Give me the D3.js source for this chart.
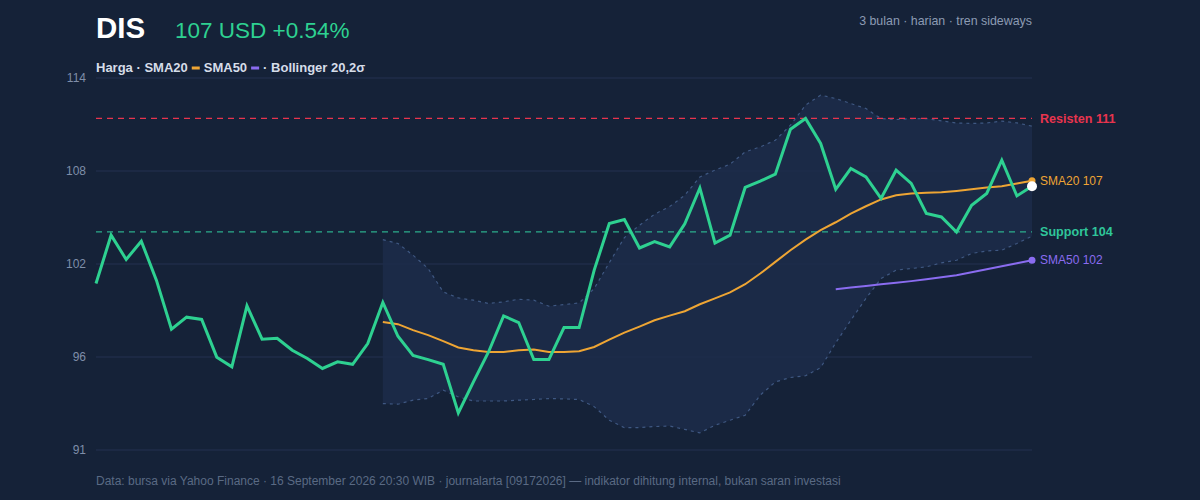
<!DOCTYPE html>
<html>
<head>
<meta charset="utf-8">
<script src="https://cdn.jsdelivr.net/npm/d3@7"></script>
<style>
  html, body { margin: 0; padding: 0; background: #152238; }
  svg { display: block; font-family: "Liberation Sans", Arial, sans-serif; }
</style>
</head>
<body>
<svg width="1200" height="500"></svg>
<script>
// closing prices, 63 trading days
const price = [
  100.86, 103.85, 102.35, 103.48, 101.07, 98.04, 98.78, 98.64, 96.31, 95.71,
  99.48, 97.42, 97.48, 96.74, 96.23, 95.61, 96.02, 95.87, 97.15, 99.69,
  97.60, 96.41, 96.16, 95.87, 92.86, 94.78, 96.63, 98.86, 98.45, 96.16,
  96.16, 98.14, 98.14, 101.69, 104.57, 104.82, 103.06, 103.45, 103.13, 104.55,
  106.77, 103.37, 103.85, 106.80, 107.19, 107.62, 110.40, 111.07, 109.52, 106.69,
  107.97, 107.45, 106.12, 107.87, 107.05, 105.19, 104.98, 104.05, 105.70, 106.43,
  108.49, 106.28, 106.88
];

// SMA20, from day 19
const sma20Start = 19;
const sma20 = [
  98.49, 98.35, 97.98, 97.67, 97.30, 96.91, 96.74, 96.63, 96.63, 96.74,
  96.78, 96.63, 96.63, 96.68, 96.94, 97.39, 97.83, 98.20, 98.59, 98.88,
  99.15, 99.58, 99.94, 100.31, 100.82, 101.48, 102.20, 102.92, 103.58, 104.16,
  104.65, 105.19, 105.64, 106.06, 106.32, 106.43, 106.47, 106.51, 106.59, 106.69,
  106.80, 106.88, 107.05, 107.21
];

// SMA50, from day 49
const sma50Start = 49;
const sma50 = [
  100.51, 100.62, 100.71, 100.82, 100.91, 101.01, 101.13, 101.25, 101.38, 101.56,
  101.75, 101.93, 102.12, 102.30
];

// Bollinger 20,2 bands, from day 19
const bbUpper = [
  103.58, 103.34, 102.61, 101.79, 100.34, 99.97, 99.83, 99.63, 99.73, 99.89,
  99.83, 99.46, 99.56, 99.66, 100.55, 102.15, 103.70, 104.47, 105.15, 105.62,
  106.32, 107.45, 107.87, 108.24, 109.00, 109.31, 109.72, 110.65, 111.89, 112.51,
  112.30, 111.99, 111.68, 111.06, 111.00, 111.06, 111.06, 110.92, 110.79, 110.76,
  110.79, 110.90, 110.79, 110.59
];
const bbLower = [
  93.44, 93.40, 93.65, 93.75, 94.27, 93.85, 93.60, 93.60, 93.60, 93.65,
  93.69, 93.75, 93.73, 93.69, 93.25, 92.41, 91.95, 91.95, 92.02, 92.05,
  91.84, 91.63, 92.10, 92.41, 92.72, 93.96, 94.78, 95.05, 95.16, 95.66,
  97.20, 98.59, 99.94, 101.17, 101.69, 101.79, 101.89, 102.14, 102.30, 102.72,
  102.88, 102.92, 103.34, 103.79
];

const resistance = 111.07;
const support = 104.05;

const yDomain = [90.6, 113.6];
const yTickLabels = ["91", "96", "102", "108", "114"];

const colors = {
  bg: "#152238",
  grid: "#1f2d48",
  price: "#2ed191",
  sma20: "#eea534",
  sma50: "#8a6cf0",
  band: "#1c2c4a",
  bandLine: "#3f5882",
  resist: "#e8344e",
  support: "#2fc69a",
  axis: "#7f8ea8",
  muted: "#5a6a84"
};

const svg = d3.select("svg");
const plot = { left: 96, right: 1032, top: 77.5, bottom: 449.5 };

const x = d3.scaleLinear().domain([0, price.length - 1]).range([plot.left, plot.right]);
const y = d3.scaleLinear().domain(yDomain).range([plot.bottom, plot.top]);

svg.append("rect").attr("width", 1200).attr("height", 500).attr("fill", colors.bg);

// grid + y axis
const tickVals = yTickLabels.map((d, i) => yDomain[0] + i * (yDomain[1] - yDomain[0]) / (yTickLabels.length - 1));
const yAxis = d3.axisLeft(y)
  .tickValues(tickVals)
  .tickFormat((d, i) => yTickLabels[i])
  .tickSize(-(plot.right - plot.left))
  .tickPadding(10);
const gAxis = svg.append("g").attr("transform", `translate(${plot.left},0)`).call(yAxis);
gAxis.select(".domain").remove();
gAxis.selectAll(".tick line").attr("stroke", colors.grid).attr("stroke-width", 1.5);
gAxis.selectAll(".tick text").attr("fill", colors.axis).style("font-size", "12px");

// bollinger band
const bandIdx = d3.range(bbUpper.length);
svg.append("path")
  .datum(bandIdx)
  .attr("fill", colors.band)
  .attr("fill-opacity", 0.85)
  .attr("d", d3.area()
    .x(i => x(i + sma20Start))
    .y0(i => y(bbLower[i]))
    .y1(i => y(bbUpper[i])));

const lineFrom = (start) => d3.line().x((d, i) => x(i + start)).y(d => y(d));

[bbUpper, bbLower].forEach(band => {
  svg.append("path")
    .datum(band)
    .attr("fill", "none")
    .attr("stroke", colors.bandLine)
    .attr("stroke-width", 1.2)
    .attr("stroke-dasharray", "3,4")
    .attr("d", lineFrom(sma20Start));
});

// resistance / support
svg.append("line")
  .attr("x1", plot.left).attr("x2", plot.right)
  .attr("y1", y(resistance)).attr("y2", y(resistance))
  .attr("stroke", colors.resist).attr("stroke-width", 1.3).attr("stroke-dasharray", "6,5");
svg.append("line")
  .attr("x1", plot.left).attr("x2", plot.right)
  .attr("y1", y(support)).attr("y2", y(support))
  .attr("stroke", colors.support).attr("stroke-width", 1.3).attr("stroke-dasharray", "6,5")
  .attr("stroke-opacity", 0.85);

// moving averages
svg.append("path").datum(sma20)
  .attr("fill", "none").attr("stroke", colors.sma20).attr("stroke-width", 2)
  .attr("d", lineFrom(sma20Start));
svg.append("path").datum(sma50)
  .attr("fill", "none").attr("stroke", colors.sma50).attr("stroke-width", 2)
  .attr("d", lineFrom(sma50Start));

// price
svg.append("path").datum(price)
  .attr("fill", "none").attr("stroke", colors.price).attr("stroke-width", 3)
  .attr("stroke-linejoin", "miter")
  .attr("d", lineFrom(0));

// end dots
const last = price.length - 1;
svg.append("circle").attr("cx", x(last)).attr("cy", y(sma20[sma20.length - 1])).attr("r", 3.5).attr("fill", colors.sma20);
svg.append("circle").attr("cx", x(last)).attr("cy", y(sma50[sma50.length - 1])).attr("r", 3.5).attr("fill", colors.sma50);
svg.append("circle").attr("cx", x(last)).attr("cy", y(price[last])).attr("r", 5).attr("fill", "#ffffff");

// right labels
const lx = plot.right + 8;
svg.append("text").attr("x", lx).attr("y", y(resistance)).attr("dy", "0.35em")
  .attr("fill", colors.resist).style("font-size", "12.6px").style("font-weight", "bold")
  .text("Resisten " + d3.format(".0f")(resistance));
svg.append("text").attr("x", lx).attr("y", y(sma20[sma20.length - 1])).attr("dy", "0.35em")
  .attr("fill", colors.sma20).style("font-size", "12px")
  .text("SMA20 " + d3.format(".0f")(sma20[sma20.length - 1]));
svg.append("text").attr("x", lx).attr("y", y(support)).attr("dy", "0.35em")
  .attr("fill", colors.support).style("font-size", "12.6px").style("font-weight", "bold")
  .text("Support " + d3.format(".0f")(support));
svg.append("text").attr("x", lx).attr("y", y(sma50[sma50.length - 1])).attr("dy", "0.35em")
  .attr("fill", colors.sma50).style("font-size", "12px")
  .text("SMA50 " + d3.format(".0f")(sma50[sma50.length - 1]));

// header
svg.append("text").attr("x", 96).attr("y", 38)
  .attr("fill", "#ffffff").style("font-size", "29.5px").style("font-weight", "bold")
  .text("DIS");
svg.append("text").attr("x", 175).attr("y", 38)
  .attr("fill", colors.price).style("font-size", "22.5px")
  .text(`${d3.format(".0f")(price[last])} USD +0.54%`);
svg.append("text").attr("x", plot.right).attr("y", 25).attr("text-anchor", "end")
  .attr("fill", "#8c9bb3").style("font-size", "12.4px")
  .text("3 bulan · harian · tren sideways");

// legend: text pieces with short thick swatches between them
const legendParts = [
  { text: "Harga · SMA20", swatch: colors.sma20 },
  { text: "SMA50", swatch: colors.sma50 },
  { text: "· Bollinger 20,2σ", swatch: null }
];
const gap = 4, swatchW = 8;
let legendX = 96;
legendParts.forEach(p => {
  const t = svg.append("text").attr("x", legendX).attr("y", 72)
    .attr("fill", "#d5dde9").style("font-size", "13px").style("font-weight", "bold")
    .text(p.text);
  legendX += t.node().getComputedTextLength();
  if (p.swatch) {
    svg.append("rect").attr("x", legendX + gap).attr("y", 66.5)
      .attr("width", swatchW).attr("height", 3).attr("fill", p.swatch);
    legendX += gap * 2 + swatchW;
  }
});

// footer
svg.append("text").attr("x", 96).attr("y", 485)
  .attr("fill", colors.muted).style("font-size", "12px")
  .text("Data: bursa via Yahoo Finance · 16 September 2026 20:30 WIB · journalarta [09172026] — indikator dihitung internal, bukan saran investasi");
</script>
</body>
</html>
